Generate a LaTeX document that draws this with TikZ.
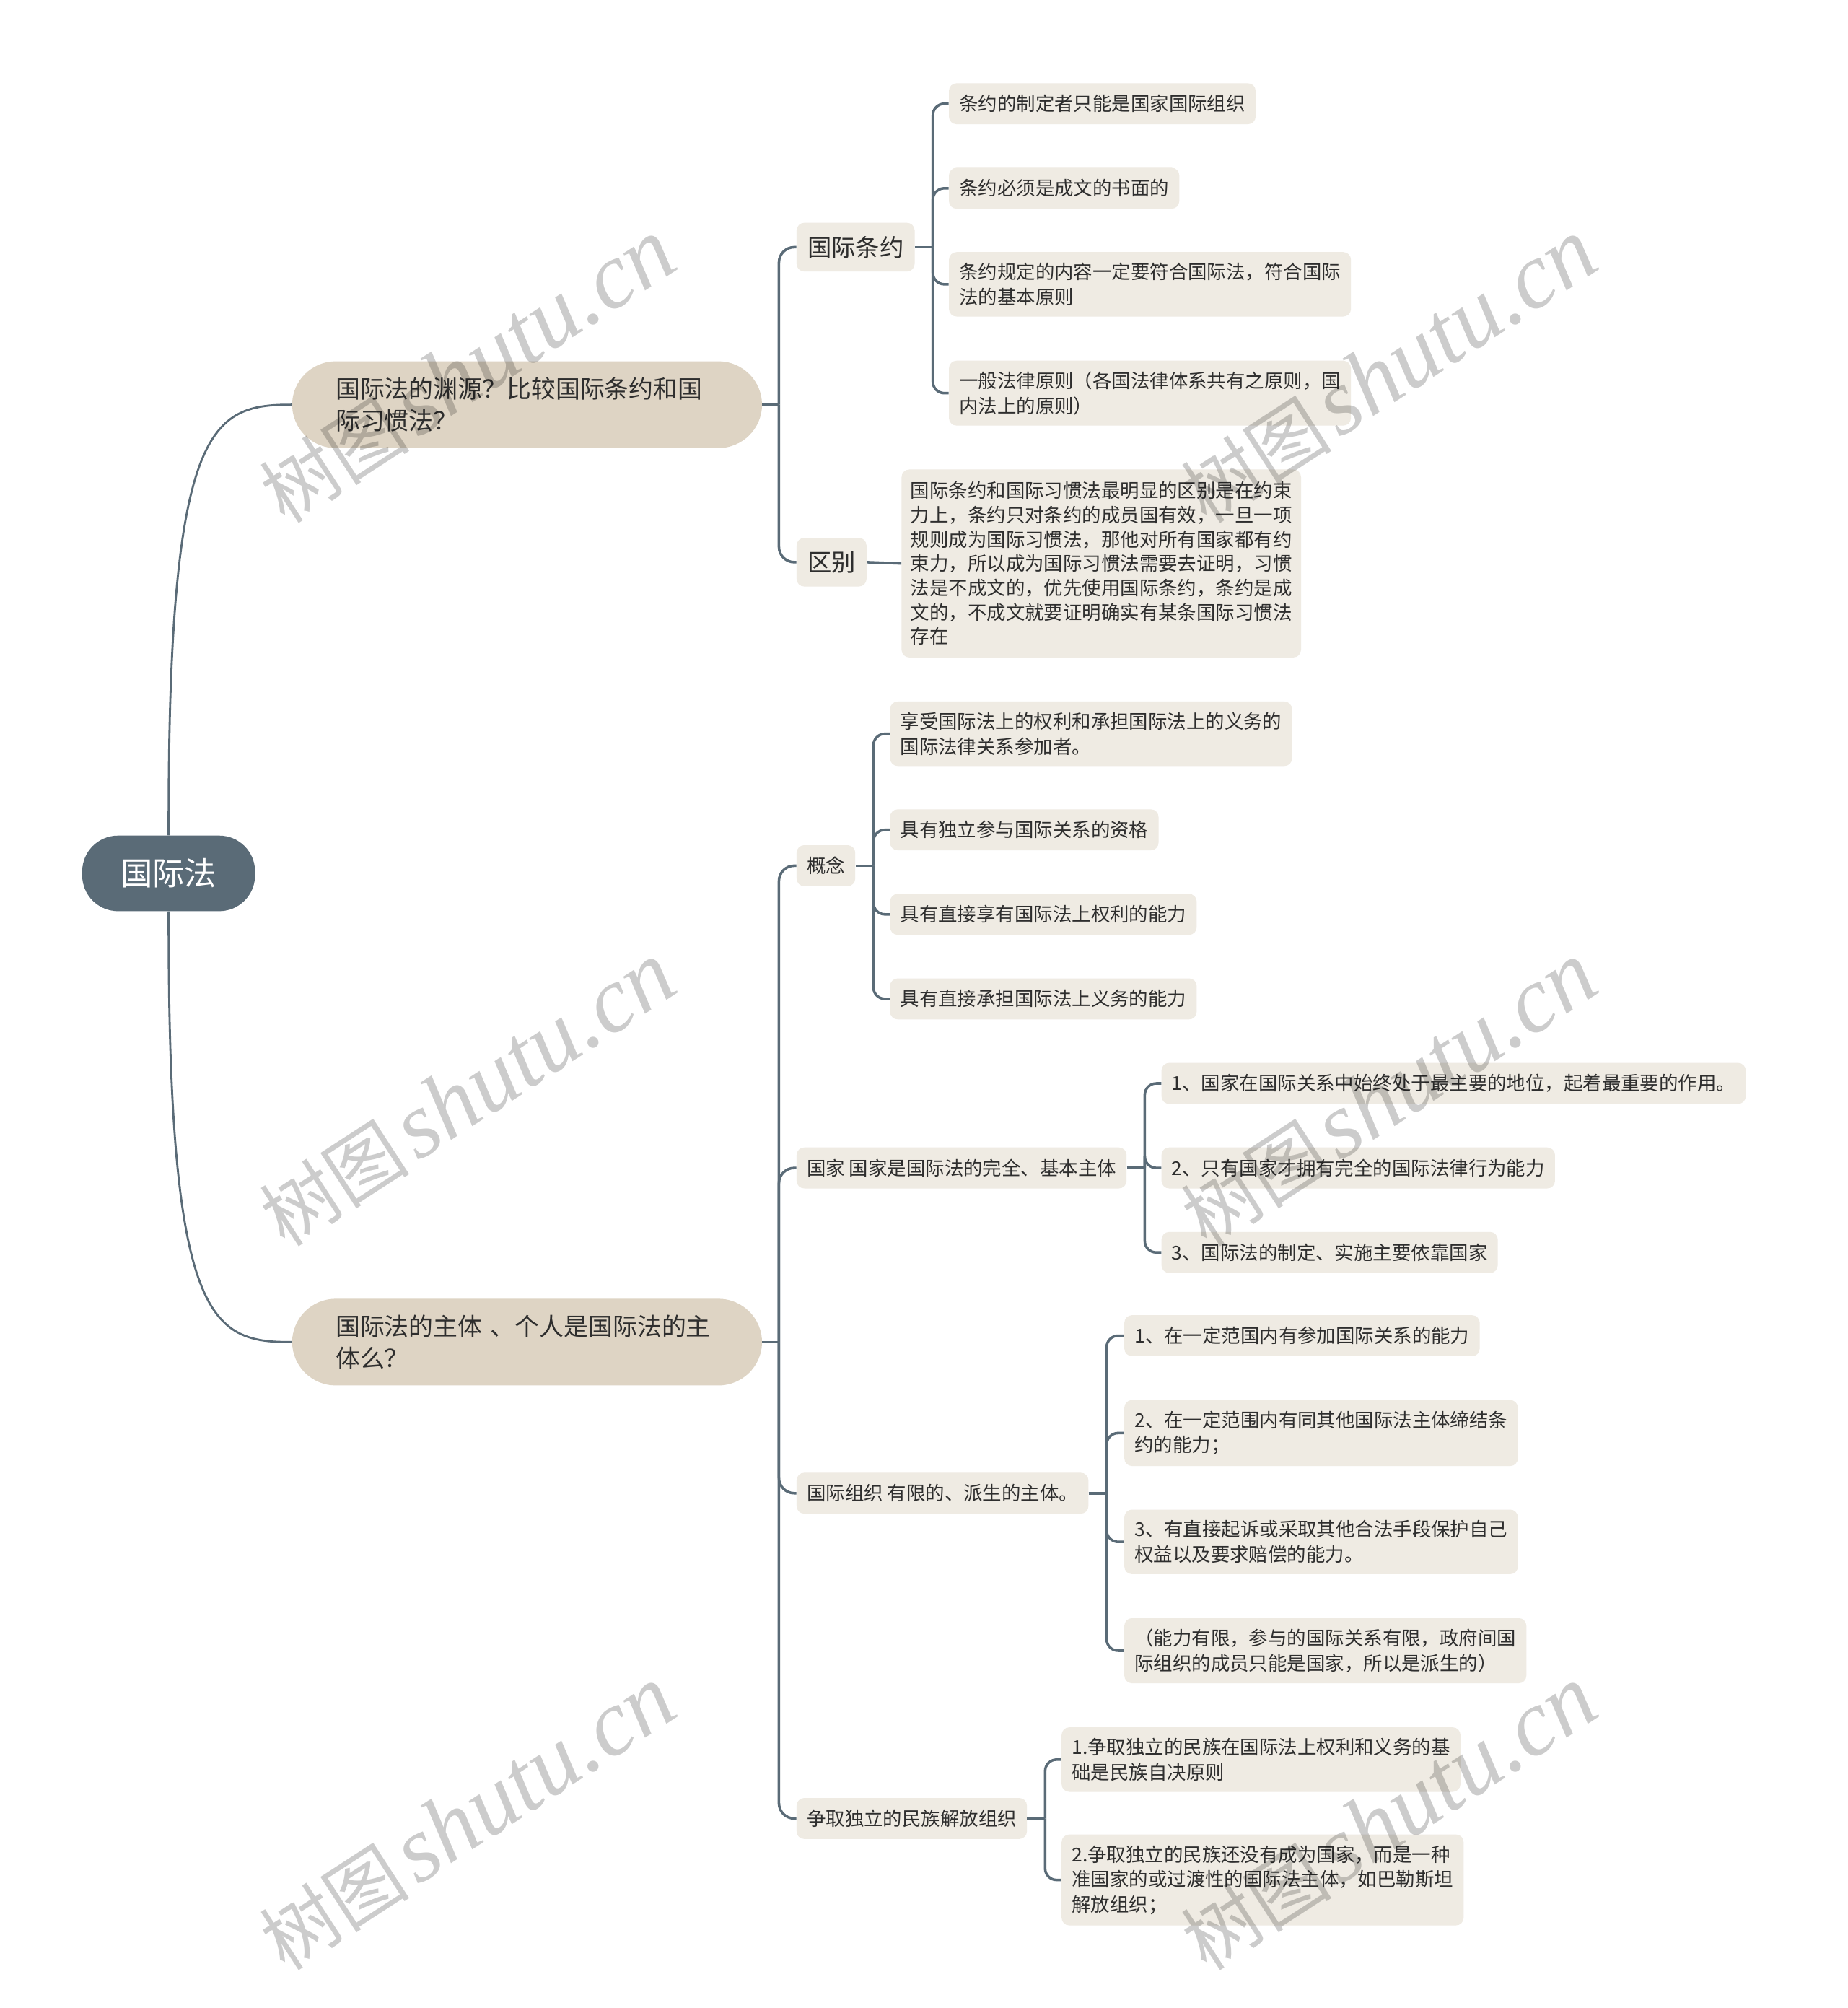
\documentclass[tikz,border=0pt]{standalone}
\usepackage{fontspec}
\setmainfont{Noto Sans CJK SC}
\newfontfamily\wmlatin{Liberation Serif}
\newfontfamily\wmcjk{Noto Sans CJK SC}
\definecolor{rootc}{HTML}{5A6B77}
\definecolor{lonec}{HTML}{DED4C4}
\definecolor{leafc}{HTML}{EFEBE3}
\definecolor{linec}{HTML}{5A6B77}
\definecolor{txtc}{HTML}{2E2E2E}
\tikzset{
  rootnode/.style={fill=rootc, text=white, rounded corners=28pt, font=\fontsize{25}{30}\selectfont, inner xsep=30pt, inner ysep=4pt, minimum height=59pt, anchor=west},
  lonenode/.style={fill=lonec, text=txtc, rounded corners=34pt, font=\fontsize{19.1}{25}\selectfont, inner xsep=34pt, inner ysep=12.5pt, align=left, anchor=west, text width=299pt},
  midnode/.style={fill=leafc, text=txtc, rounded corners=6pt, font=\fontsize{18.8}{24}\selectfont, inner xsep=8.5pt, inner ysep=4pt, minimum height=38pt, anchor=west},
  leafnode/.style={fill=leafc, text=txtc, rounded corners=6pt, font=\fontsize{14.9}{19.5}\selectfont, inner xsep=8pt, inner ysep=8.5pt, minimum height=32pt, align=left, anchor=west},
  longnode/.style={fill=leafc, text=txtc, rounded corners=6pt, font=\fontsize{14.9}{19}\selectfont, inner xsep=7pt, inner ysep=9.5pt, align=left, anchor=west},
  rootconn/.style={draw=linec, line width=1.6pt},
  conn/.style={draw=linec, line width=2pt},
  bigbend/.style={conn, rounded corners=12pt},
  smallbend/.style={conn, rounded corners=9pt},
  wmark/.style={rotate=33, text=black, opacity=0.2, inner sep=0pt}
}
\begin{document}
\begin{tikzpicture}[x=1pt,y=-1pt]
\useasboundingbox (0,0) rectangle (1443,1568);
\fill[white] (0,0) rectangle (1443,1568);

% root and level 1
\node[rootnode] (root) at (64,682) {国际法};
\node[lonenode] (la) at (228,316) {国际法的渊源？比较国际条约和国\\际习惯法？};
\node[lonenode] (lb) at (228,1048) {国际法的主体 、个人是国际法的主\\体么？};

% branch A
\node[midnode] (ty) at (622,193) {国际条约};
\node[midnode] (qb) at (622,439) {区别};
\node[leafnode] (t1) at (741,81) {条约的制定者只能是国家国际组织};
\node[leafnode] (t2) at (741,147) {条约必须是成文的书面的};
\node[leafnode] (t3) at (741,222) {条约规定的内容一定要符合国际法，符合国际\\法的基本原则};
\node[leafnode] (t4) at (741,307) {一般法律原则（各国法律体系共有之原则，国\\内法上的原则）};
\node[longnode] (qt) at (704,440) {国际条约和国际习惯法最明显的区别是在约束\\力上，条约只对条约的成员国有效，一旦一项\\规则成为国际习惯法，那他对所有国家都有约\\束力，所以成为国际习惯法需要去证明，习惯\\法是不成文的，优先使用国际条约，条约是成\\文的，不成文就要证明确实有某条国际习惯法\\存在};

% branch B
\node[leafnode] (gn) at (622,676) {概念};
\node[leafnode] (gj) at (622,912) {国家 国家是国际法的完全、基本主体};
\node[leafnode] (zz) at (622,1166) {国际组织 有限的、派生的主体。};
\node[leafnode] (mz) at (622,1420) {争取独立的民族解放组织};

\node[leafnode] (g1) at (695,573) {享受国际法上的权利和承担国际法上的义务的\\国际法律关系参加者。};
\node[leafnode] (g2) at (695,648) {具有独立参与国际关系的资格};
\node[leafnode] (g3) at (695,714) {具有直接享有国际法上权利的能力};
\node[leafnode] (g4) at (695,780) {具有直接承担国际法上义务的能力};

\node[leafnode] (j1) at (907,846) {1、国家在国际关系中始终处于最主要的地位，起着最重要的作用。};
\node[leafnode] (j2) at (907,912) {2、只有国家才拥有完全的国际法律行为能力};
\node[leafnode] (j3) at (907,978) {3、国际法的制定、实施主要依靠国家};

\node[leafnode] (z1) at (878,1043) {1、在一定范国内有参加国际关系的能力};
\node[leafnode] (z2) at (878,1119) {2、在一定范围内有同其他国际法主体缔结条\\约的能力；};
\node[leafnode] (z3) at (878,1204) {3、有直接起诉或采取其他合法手段保护自己\\权益以及要求赔偿的能力。};
\node[leafnode] (z4) at (878,1289) {（能力有限，参与的国际关系有限，政府间国\\际组织的成员只能是国家，所以是派生的）};

\node[leafnode] (m1) at (829,1374) {1.争取独立的民族在国际法上权利和义务的基\\础是民族自决原则};
\node[leafnode] (m2) at (829,1468) {2.争取独立的民族还没有成为国家，而是一种\\准国家的或过渡性的国际法主体，如巴勒斯坦\\解放组织；};

% root connectors
\draw[rootconn] (root.north) .. controls (131,330) and (165,316) .. (la.west);
\draw[rootconn] (root.south) .. controls (131,1034) and (165,1048) .. (lb.west);

% junctions
\coordinate (ja) at ([xshift=13pt]la.east);
\coordinate (jb) at ([xshift=13pt]lb.east);
\coordinate (jty) at ([xshift=14pt]ty.east);
\coordinate (jgn) at ([xshift=14pt]gn.east);
\coordinate (jgj) at ([xshift=14pt]gj.east);
\coordinate (jzz) at ([xshift=14pt]zz.east);
\coordinate (jmz) at ([xshift=14pt]mz.east);

\draw[conn] (la.east) -- (ja);
\foreach \c in {ty,qb} \draw[bigbend] (ja) |- (\c.west);
\draw[conn] (lb.east) -- (jb);
\foreach \c in {gn,gj,zz,mz} \draw[bigbend] (jb) |- (\c.west);

\draw[conn] (ty.east) -- (jty);
\foreach \c in {t1,t2,t3,t4} \draw[smallbend] (jty) |- (\c.west);
\draw[conn] (qb.east) -- (qt.west);

\draw[conn] (gn.east) -- (jgn);
\foreach \c in {g1,g2,g3,g4} \draw[smallbend] (jgn) |- (\c.west);
\draw[conn] (gj.east) -- (jgj);
\foreach \c in {j1,j2,j3} \draw[smallbend] (jgj) |- (\c.west);
\draw[conn] (zz.east) -- (jzz);
\foreach \c in {z1,z2,z3,z4} \draw[smallbend] (jzz) |- (\c.west);
\draw[conn] (mz.east) -- (jmz);
\foreach \c in {m1,m2} \draw[smallbend] (jmz) |- (\c.west);

% watermarks
\foreach \wx/\wy [count=\i] in {365/290,1085/290,365/855,1085/855,365/1420,1085/1420}
  \node[wmark] (wm\i) at (\wx,\wy) {{\wmcjk\fontsize{59}{62}\selectfont 树图}\hspace{6pt}{\wmlatin\itshape\fontsize{73}{76}\selectfont shutu.cn}};
\end{tikzpicture}
\end{document}
